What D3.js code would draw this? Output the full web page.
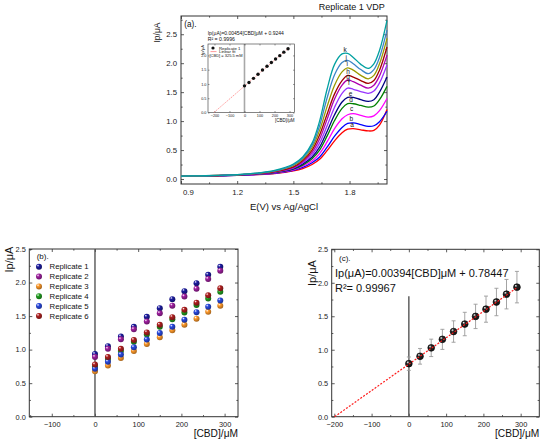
<!DOCTYPE html>
<html><head><meta charset="utf-8">
<script src="https://cdn.jsdelivr.net/npm/d3@7"></script>
<style>body{margin:0;background:#fff}svg{display:block}</style>
</head><body><svg id="chart" width="550" height="444"></svg>
<script>
const FONT = '"Liberation Sans", Arial, sans-serif';
// ---------- Panel (a): VDP curves ----------
const potential = [0.9,1.0,1.1,1.2,1.3,1.4,1.5,1.55,1.6,1.64,1.68,1.72,1.76,1.79,1.82,1.86,1.9,1.93,1.96,2.0];
const curveA = [0.045,0.05,0.055,0.063,0.075,0.095,0.14,0.18,0.25,0.34,0.49,0.66,0.80,0.86,0.87,0.85,0.83,0.84,0.93,1.20];
const curveB = [0.046,0.051,0.056,0.065,0.078,0.10,0.15,0.20,0.28,0.38,0.55,0.74,0.89,0.96,0.97,0.94,0.91,0.92,0.99,1.17];
const curveC = [0.047,0.052,0.057,0.066,0.08,0.105,0.16,0.22,0.31,0.44,0.64,0.87,1.04,1.11,1.13,1.10,1.07,1.09,1.18,1.39];
const curveD = [0.048,0.053,0.058,0.068,0.085,0.11,0.17,0.24,0.35,0.50,0.74,1.01,1.22,1.30,1.30,1.27,1.24,1.26,1.37,1.60];
const curveE = [0.048,0.053,0.059,0.069,0.087,0.115,0.18,0.26,0.38,0.55,0.82,1.11,1.33,1.41,1.41,1.37,1.34,1.37,1.50,1.76];
const curveF = [0.049,0.054,0.06,0.07,0.09,0.12,0.19,0.28,0.42,0.62,0.92,1.24,1.48,1.57,1.55,1.51,1.48,1.52,1.66,1.97];
const curveG = [0.049,0.054,0.06,0.071,0.092,0.125,0.20,0.30,0.46,0.69,1.03,1.38,1.62,1.71,1.68,1.62,1.57,1.62,1.78,2.14];
const curveH = [0.05,0.055,0.061,0.072,0.094,0.13,0.21,0.32,0.50,0.76,1.12,1.47,1.70,1.79,1.76,1.70,1.65,1.70,1.88,2.28];
const curveI = [0.05,0.055,0.061,0.073,0.096,0.135,0.23,0.34,0.54,0.84,1.25,1.62,1.85,1.92,1.88,1.79,1.73,1.79,1.99,2.43];
const curveJ = [0.05,0.055,0.062,0.074,0.098,0.14,0.245,0.36,0.58,0.92,1.40,1.80,2.01,2.05,1.99,1.89,1.82,1.89,2.10,2.57];
const curveK = [0.05,0.055,0.062,0.075,0.10,0.15,0.26,0.38,0.62,1.00,1.55,1.98,2.16,2.17,2.10,1.98,1.91,1.99,2.22,2.74];
const curveNames = ['a','b','c','d','e','f','g','h','i','j','k'];
const curveColors = ['#ff0000','#0000ff','#ff00ff','#008000','#000080','#9933ff','#b000b0','#a00000','#9a9a00','#3d85c6','#00a0a0'];
const labelV = [1.813,1.809,1.811,1.808,1.806,1.797,1.792,1.792,1.787,1.782,1.777];
const labelIp = [0.93,1.04,1.21,1.37,1.47,1.66,1.76,1.86,1.99,2.09,2.24];
const voltTicks = [0.9,1.2,1.5,1.8];
const voltMinor = [1.05,1.35,1.65,1.95];
const ipTicksA = [0,0.5,1,1.5,2,2.5];
const ipMinorA = [0.25,0.75,1.25,1.75,2.25,2.75];
// ---------- Panels (b),(c) + inset ----------
const cbd = [0,30,60,90,120,150,179,207,235,262,290];
const rep1 = [0.934,1.052,1.196,1.340,1.489,1.618,1.752,1.872,1.991,2.115,2.235];
const rep2 = [0.890,1.012,1.153,1.302,1.419,1.541,1.655,1.792,1.907,2.053,2.177];
const rep3 = [0.676,0.762,0.875,0.979,1.083,1.183,1.287,1.372,1.461,1.563,1.655];
const rep4 = [0.750,0.862,0.979,1.118,1.225,1.342,1.451,1.554,1.665,1.762,1.862];
const rep5 = [0.713,0.820,0.926,1.034,1.150,1.247,1.340,1.446,1.558,1.640,1.733];
const rep6 = [0.777,0.890,1.012,1.143,1.257,1.370,1.484,1.593,1.700,1.809,1.914];
const repNames = ['Replicate 1','Replicate 2','Replicate 3','Replicate 4','Replicate 5','Replicate 6'];
const repColors = ['#1c1ca0','#a020a0','#ff9a2a','#20a020','#2a4ae0','#b02020'];
const meanIp = [0.792,0.902,1.028,1.155,1.272,1.384,1.498,1.606,1.713,1.830,1.935];
const errIp = [0.10,0.117,0.13,0.15,0.16,0.175,0.182,0.195,0.205,0.22,0.235];
const fitSlope = [0.00454, 0.00394];      // inset, panel (c)
const fitIntercept = [0.9244, 0.78447];
const ipTicks = [0,0.5,1,1.5,2,2.5];
const ipMinor = [0.25,0.75,1.25,1.75,2.25];
const cbdTicksB = [-100,0,100,200,300];
const cbdTicksC = [-200,-100,0,100,200,300];
const cbdMinor = [-150,-50,50,150,250];
const insetXTicks = [-200,-100,0,100,200,300];
const insetYTicks = [0,0.5,1,1.5,2];

const svg = d3.select('#chart');
const defs = svg.append('defs');
function ballGrad(id, col) {
  const g = defs.append('radialGradient').attr('id', id).attr('cx','40%').attr('cy','38%').attr('r','62%').attr('fx','32%').attr('fy','28%');
  g.append('stop').attr('offset','0%').attr('stop-color','#ffffff');
  g.append('stop').attr('offset','35%').attr('stop-color', col);
  g.append('stop').attr('offset','100%').attr('stop-color', d3.color(col).darker(1.2));
}
repColors.forEach((c,i)=>ballGrad('rg'+i, c));
ballGrad('rgk', '#222222');

function txt(x, y, s, fs, anchor, extra) {
  const t = svg.append('text').attr('x',x).attr('y',y).attr('dy','0.35em')
    .attr('text-anchor',anchor||'start').style('font-family',FONT).style('font-size',fs+'px').attr('fill','#111').text(s);
  if (extra) extra(t);
  return t;
}

function frame(x, y, o) {
  const [xl,xr] = x.range(), [yb,yt] = y.range();
  const tl = o.tl, col = '#333';
  const g = svg.append('g');
  const add = (axis, tx, ty) => {
    const s = g.append('g').attr('transform',`translate(${tx},${ty})`).call(axis);
    s.select('.domain').remove();
    s.selectAll('line').attr('stroke',col).attr('stroke-width',o.sw||0.8);
    s.selectAll('text').attr('fill','#222').style('font-size',o.fs+'px').style('font-family',FONT);
    return s;
  };
  const bx = add(d3.axisBottom(x).tickValues(o.xt).tickSize(-tl).tickPadding(o.px).tickFormat(o.fx),0,yb);
  if (o.firstStart) bx.selectAll('.tick').filter((d,i)=>i===0).select('text').attr('text-anchor','start').attr('x',1.5);
  add(d3.axisTop(x).tickValues(o.xt).tickSize(-tl).tickFormat(''),0,yt);
  add(d3.axisLeft(y).tickValues(o.yt).tickSize(-tl).tickPadding(o.py).tickFormat(o.fy),xl,0);
  add(d3.axisRight(y).tickValues(o.yt).tickSize(-tl).tickFormat(''),xr,0);
  if (o.xm) {
    add(d3.axisBottom(x).tickValues(o.xm).tickSize(-tl*0.55).tickFormat(''),0,yb);
    add(d3.axisTop(x).tickValues(o.xm).tickSize(-tl*0.55).tickFormat(''),0,yt);
  }
  if (o.ym) {
    add(d3.axisLeft(y).tickValues(o.ym).tickSize(-tl*0.55).tickFormat(''),xl,0);
    add(d3.axisRight(y).tickValues(o.ym).tickSize(-tl*0.55).tickFormat(''),xr,0);
  }
  g.append('rect').attr('x',xl).attr('y',yt).attr('width',xr-xl).attr('height',yb-yt)
    .attr('fill','none').attr('stroke',col).attr('stroke-width',o.bw||1);
}

// ===== Panel (a) =====
const xa = d3.scaleLinear().domain([0.9,2.0]).range([181,387]);
const ya = d3.scaleLinear().domain([-0.086,2.815]).range([184,16]);
frame(xa, ya, {xt:voltTicks, xm:voltMinor, yt:ipTicksA, ym:ipMinorA, tl:3, fs:7.8, px:5.2, py:4,
  fx:d3.format('.1f'), fy:d3.format('.1f'), firstStart:true});
const curves = [curveA,curveB,curveC,curveD,curveE,curveF,curveG,curveH,curveI,curveJ,curveK];
const lineA = d3.line().x((d,i)=>xa(potential[i])).y(d=>ya(d)).curve(d3.curveCatmullRom.alpha(0.5));
curves.forEach((c,i)=>{
  svg.append('path').datum(c).attr('d',lineA).attr('fill','none').attr('stroke',curveColors[i]).attr('stroke-width',1.3);
});
curveNames.forEach((n,i)=>txt(xa(labelV[i]), ya(labelIp[i]), n, 6.5, 'middle'));
txt(351.7, 7.3, 'Replicate 1 VDP', 9, 'middle');
txt(184.3, 24.3, '(a).', 8.2);
txt(284, 206.7, 'E(V) vs Ag/AgCl', 9.5, 'middle');
txt(0, 0, 'Ip/μA', 8.5, 'middle', t=>t.attr('transform','translate(157,32.5) rotate(-90)'));

// inset
const xi = d3.scaleLinear().domain([-243,333]).range([208,294.5]);
const yi = d3.scaleLinear().domain([0,2.4]).range([112.5,44]);
svg.append('rect').attr('x',208).attr('y',44).attr('width',86.5).attr('height',68.5).attr('fill','#fff');
svg.append('line').attr('x1',xi(0)).attr('x2',xi(0)).attr('y1',yi(0)).attr('y2',yi(2.4)).attr('stroke','#a8a8a8').attr('stroke-width',1.6);
frame(xi, yi, {xt:insetXTicks, yt:insetYTicks, tl:1.5, fs:3.8, px:2.2, py:1.6, sw:0.5, bw:0.6,
  fx:d3.format('d'), fy:d3.format('.1f')});
const x0i = -fitIntercept[0]/fitSlope[0];
svg.append('line').attr('x1',xi(x0i)).attr('y1',yi(0)).attr('x2',xi(cbd[cbd.length-1])).attr('y2',yi(fitSlope[0]*cbd[cbd.length-1]+fitIntercept[0]))
  .attr('stroke','#ff7070').attr('stroke-width',0.7).attr('stroke-dasharray','1.5,1');
svg.append('g').selectAll('circle').data(rep1).join('circle')
  .attr('cx',(d,i)=>xi(cbd[i])).attr('cy',d=>yi(d)).attr('r',1.7).attr('fill','#111');
svg.append('circle').attr('cx',213).attr('cy',48).attr('r',1.6).attr('fill','#111');
txt(219, 48, 'Replicate 1', 4.3);
svg.append('line').attr('x1',210.5).attr('x2',216.5).attr('y1',51.6).attr('y2',51.6).attr('stroke','#ff7070').attr('stroke-width',0.7);
txt(219, 51.6, 'Linear fit', 4.3);
txt(209.5, 56, '[CBD] = 325.5 mM', 4.0);
txt(294.5, 120.5, '[CBD]/μM', 4.5, 'end');
txt(0, 0, 'Ip/μA', 4.2, 'middle', t=>t.attr('transform','translate(202.3,50) rotate(-90)'));
txt(207.7, 33.3, 'Ip(μA)=0.00454[CBD]μM + 0.9244', 5.0);
txt(207.7, 39.5, 'R² = 0.9996', 5.2);

// ===== Panel (b) =====
const xb = d3.scaleLinear().domain([-152,331]).range([29.3,238]);
const yb = d3.scaleLinear().domain([0,2.5]).range([416.7,249]);
frame(xb, yb, {xt:cbdTicksB, xm:cbdMinor, yt:ipTicks, ym:ipMinor, tl:3, fs:7.4, px:4.6, py:3.5,
  fx:d3.format('d'), fy:d3.format('.1f')});
svg.append('line').attr('x1',xb(0)).attr('x2',xb(0)).attr('y1',yb(0)).attr('y2',yb(2.5)).attr('stroke','#555').attr('stroke-width',1.4);
const reps = [rep1,rep2,rep3,rep4,rep5,rep6];
reps.forEach((r,k)=>{
  svg.append('g').selectAll('circle').data(r).join('circle')
    .attr('cx',(d,i)=>xb(cbd[i])).attr('cy',d=>yb(d)).attr('r',3).attr('fill',`url(#rg${k})`);
});
txt(36.7, 256, '(b).', 8);
repNames.forEach((n,k)=>{
  const yy = 266.7 + k*9.85;
  svg.append('circle').attr('cx',39).attr('cy',yy).attr('r',3).attr('fill',`url(#rg${k})`);
  txt(49.5, yy, n, 7.8);
});
txt(238, 433.6, '[CBD]/μM', 10.2, 'end');
txt(0, 0, 'Ip/μA', 11, 'middle', t=>t.attr('transform','translate(9.5,259.5) rotate(-90)'));

// ===== Panel (c) =====
const xc = d3.scaleLinear().domain([-207,350]).range([331.7,539.3]);
const yc = d3.scaleLinear().domain([0,2.5]).range([416.7,249.3]);
frame(xc, yc, {xt:cbdTicksC, xm:cbdMinor, yt:ipTicks, ym:ipMinor, tl:3, fs:7.4, px:4.6, py:3.5,
  fx:d3.format('d'), fy:d3.format('.1f')});
svg.append('line').attr('x1',xc(0)).attr('x2',xc(0)).attr('y1',yc(0)).attr('y2',yc(1.8)).attr('stroke','#555').attr('stroke-width',1.4);
const eb = svg.append('g').attr('stroke','#9a9a9a').attr('stroke-width',0.9);
meanIp.forEach((m,i)=>{
  const X = xc(cbd[i]);
  eb.append('line').attr('x1',X).attr('x2',X).attr('y1',yc(m-errIp[i])).attr('y2',yc(m+errIp[i]));
  eb.append('line').attr('x1',X-2).attr('x2',X+2).attr('y1',yc(m-errIp[i])).attr('y2',yc(m-errIp[i]));
  eb.append('line').attr('x1',X-2).attr('x2',X+2).attr('y1',yc(m+errIp[i])).attr('y2',yc(m+errIp[i]));
});
svg.append('g').selectAll('circle').data(meanIp).join('circle')
  .attr('cx',(d,i)=>xc(cbd[i])).attr('cy',d=>yc(d)).attr('r',3.4).attr('fill','url(#rgk)').attr('stroke','#000').attr('stroke-width',0.6);
const x0c = -fitIntercept[1]/fitSlope[1];
svg.append('line').attr('x1',xc(x0c)).attr('y1',yc(0)).attr('x2',xc(cbd[cbd.length-1])).attr('y2',yc(fitSlope[1]*cbd[cbd.length-1]+fitIntercept[1]))
  .attr('stroke','#ff1a1a').attr('stroke-width',1.2).attr('stroke-dasharray','2,1.5');
txt(339, 258.3, '(c).', 8);
txt(335, 273.3, 'Ip(μA)=0.00394[CBD]μM + 0.78447', 11);
txt(335, 288.3, 'R²= 0.99967', 11);
txt(539.3, 433.4, '[CBD]/μM', 10.2, 'end');
txt(0, 0, 'Ip/μA', 11, 'middle', t=>t.attr('transform','translate(311.7,273) rotate(-90)'));
</script></body></html>
